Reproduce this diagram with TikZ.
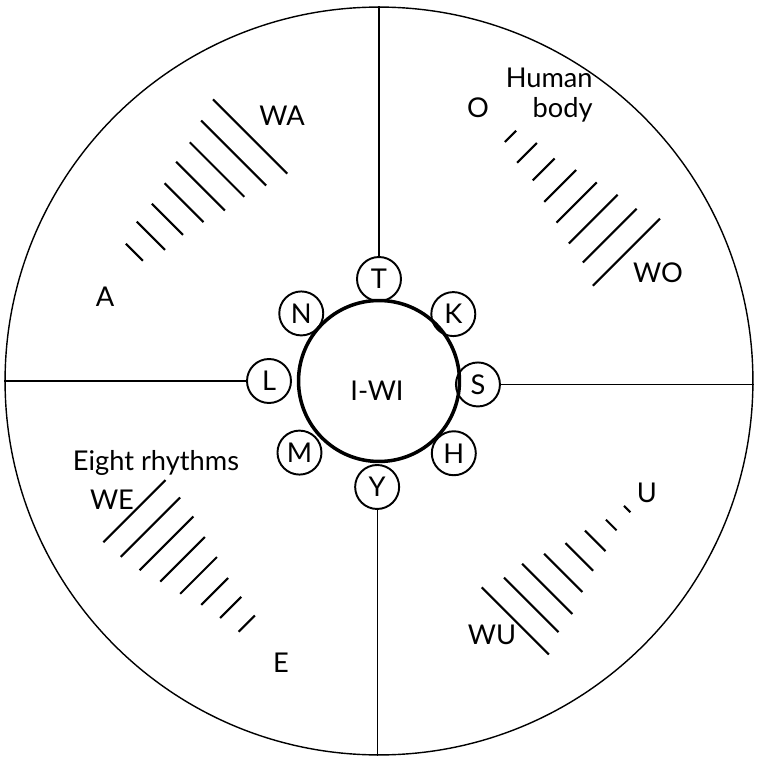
\documentclass[tikz,border=0pt]{standalone}
\usepackage{fontspec}
\setmainfont{Lato}
\begin{document}
\begin{tikzpicture}[
  x=0.02cm, y=0.02cm,
  rim/.style={circle, draw, line width=0.8pt, minimum size=14.96cm, inner sep=0pt},
  hub/.style={circle, draw, line width=2pt, minimum size=3.22cm, inner sep=0pt},
  letter/.style={circle, draw, line width=1.1pt, minimum size=0.88cm, inner sep=0pt},
  spoke/.style={line width=0.7pt},
  hatch/.style={line width=1.2pt},
  lbl/.style={inner sep=0pt},
  every node/.style={font=\fontsize{15.5}{17}\selectfont}
]
  \useasboundingbox (-379,-377) rectangle (378,381);
  \node (rim) [rim] at (0,0) {};
  \node (hub) [hub] at (0,0) {};
  \node (iwi) [lbl] at (-2,-10) {I-WI};
  % the eight letters round the hub
  \foreach \name/\ang/\rad in {T/90/102, K/42/100, S/-2/99, H/-44/104,
                               Y/-91/106, M/-138/107, L/180/110, N/139/103}
    \node (\name) [letter] at (\ang:\rad) {\name};
  % cross
  \draw[spoke] (T.north) -- (T.north |- rim.north);
  \draw[spoke] (Y.south) -- (Y.south |- rim.south);
  \draw[spoke] (L.west) -- (L.west -| rim.west);
  \draw[spoke] (S.east) -- (S.east -| rim.east);
  % hatching, short end first
  \foreach \len [count=\i from 0] in {24,40,44,55,69,77,92,105}
    \draw[hatch, rotate=135] ({264-\len/2},{82-23.4*\i}) -- ({264+\len/2},{82-23.4*\i});
  \foreach \len [count=\i from 0] in {16,28,31,45,57,69,76,95}
    \draw[hatch, rotate=45] ({266-\len/2},{80-23.4*\i}) -- ({266+\len/2},{80-23.4*\i});
  \foreach \len [count=\i from 0] in {23,30,38,52,63,76,84,88}
    \draw[hatch, rotate=225] ({265-\len/2},{78-22.7*\i}) -- ({265+\len/2},{78-22.7*\i});
  \foreach \len [count=\i from 0] in {9,15,29,39,54,71,77,95}
    \draw[hatch, rotate=315] ({266-\len/2},{85-22.6*\i}) -- ({266+\len/2},{85-22.6*\i});
  % labels
  \node (wa) [lbl] at (-97,265) {WA};
  \node (a) [lbl] at (-274,84) {A};
  \node (o) [lbl] at (99,273) {O};
  \node (body) [lbl, align=right, anchor=east] at (214,286) {Human\\body};
  \node (wo) [lbl] at (279,108) {WO};
  \node (rhythms) [lbl] at (-223,-82) {Eight rhythms};
  \node (we) [lbl] at (-267,-119) {WE};
  \node (e) [lbl] at (-98,-282) {E};
  \node (u) [lbl] at (268,-112) {U};
  \node (wu) [lbl] at (113,-254) {WU};
\end{tikzpicture}
\end{document}
